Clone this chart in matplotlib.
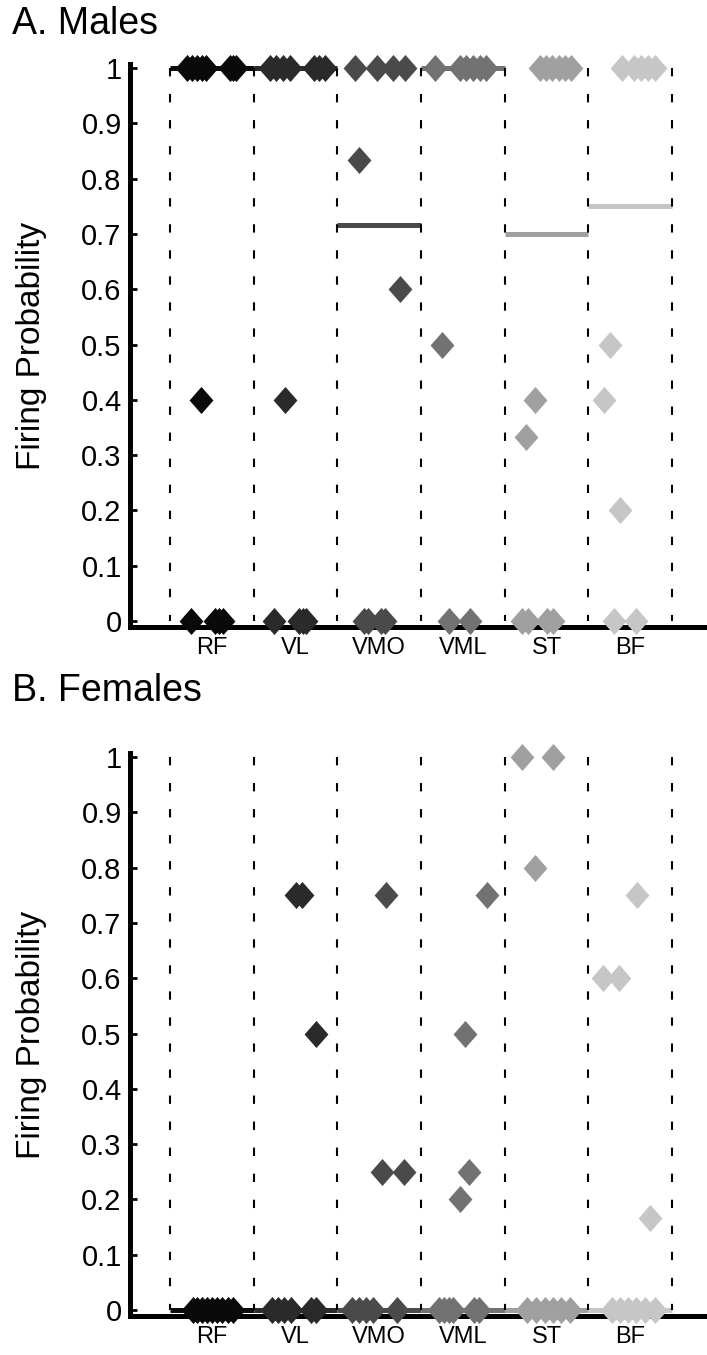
import numpy as np
import matplotlib
matplotlib.use('Agg')
import matplotlib.pyplot as plt
from matplotlib.path import Path

plt.rcParams['font.family'] = ['Liberation Sans', 'DejaVu Sans']

muscles = ['RF', 'VL', 'VMO', 'VML', 'ST', 'BF']
shades = ['#0a0a0a', '#2a2a2a', '#4a4a4a', '#727272', '#a0a0a0', '#c6c6c6']

# firing probability per motor unit, males
male_prob = [
    [1, 1, 1, 1, 1, 1, 1, 1, 0.4, 0, 0, 0, 0],
    [1, 1, 1, 1, 1, 1, 1, 0.4, 0, 0, 0, 0],
    [1, 1, 1, 1, 0.833, 0.6, 0, 0, 0, 0],
    [1, 1, 1, 1, 1, 1, 0.5, 0, 0],
    [1, 1, 1, 1, 1, 1, 0.4, 0.333, 0, 0, 0, 0],
    [1, 1, 1, 1, 1, 0.5, 0.4, 0.2, 0, 0],
]
# horizontal scatter of each unit inside its muscle column
male_jitter = [
    [-0.30, -0.24, -0.18, -0.12, -0.07, 0.22, 0.25, 0.29, -0.13, -0.25, 0.04, 0.09, 0.13],
    [-0.30, -0.23, -0.15, -0.07, 0.22, 0.28, 0.35, -0.13, -0.26, 0.04, 0.09, 0.13],
    [-0.29, -0.03, 0.16, 0.31, -0.24, 0.25, -0.18, -0.13, 0.02, 0.07],
    [-0.33, -0.03, 0.04, 0.12, 0.21, 0.28, -0.25, -0.16, 0.09],
    [-0.08, -0.01, 0.07, 0.15, 0.22, 0.29, -0.14, -0.25, -0.29, -0.22, 0.01, 0.08],
    [-0.10, 0.05, 0.13, 0.21, 0.30, -0.24, -0.31, -0.12, -0.19, 0.07],
]

# firing probability per motor unit, females
female_prob = [
    [0, 0, 0, 0, 0, 0, 0, 0, 0],
    [0.75, 0.75, 0.5, 0, 0, 0, 0, 0, 0],
    [0.75, 0.25, 0.25, 0, 0, 0, 0, 0],
    [0.75, 0.5, 0.25, 0.2, 0, 0, 0, 0, 0, 0],
    [1, 1, 0.8, 0, 0, 0, 0, 0, 0],
    [0.75, 0.6, 0.6, 0.167, 0, 0, 0, 0, 0, 0],
]
female_jitter = [
    [-0.23, -0.18, -0.12, -0.06, 0.00, 0.06, 0.12, 0.19, 0.25],
    [0.01, 0.08, 0.25, -0.28, -0.21, -0.14, -0.05, 0.19, 0.25],
    [0.08, 0.03, 0.30, -0.33, -0.24, -0.16, -0.07, 0.21],
    [0.29, 0.03, 0.07, -0.03, -0.28, -0.22, -0.16, -0.12, 0.13, 0.19],
    [-0.29, 0.08, -0.14, -0.23, -0.12, -0.02, 0.08, 0.17, 0.28],
    [0.08, -0.33, -0.13, 0.24, -0.22, -0.12, -0.03, 0.07, 0.18, 0.30],
]

# slightly tall diamond, like the matlab 'd' marker
diamond = Path([(0, 1), (0.88, 0), (0, -1), (-0.88, 0), (0, 1)], closed=True)

W, H = 707, 1355
fig = plt.figure(figsize=(W / 100, H / 100), dpi=100)
ax_a = fig.add_axes([130 / W, 1 - 627 / H, 577 / W, 563 / H])
ax_b = fig.add_axes([130 / W, 1 - 1316 / H, 577 / W, 563 / H])


def draw_panel(ax, prob, jitter):
    for i, (p, j) in enumerate(zip(prob, jitter)):
        p = np.array(p)
        med = np.median(p)
        ax.plot([i - 0.5, i + 0.5], [med, med], color=shades[i], lw=3.6,
                solid_capstyle='butt', zorder=3, clip_on=False)
        ax.plot(i + np.array(j), p, linestyle='none', marker=diamond, ms=19.5,
                mfc=shades[i], mec=shades[i], mew=0, zorder=4, clip_on=False)
    # column separators
    for b in np.arange(-0.5, len(muscles), 1.0):
        ax.plot([b, b], [1, 0], color='k', lw=1.5, linestyle=(0, (4, 8.5)),
                zorder=3.5)

    ax.set_xlim(-0.978, 5.918)
    ax.set_ylim(-0.0108, 1.0072)
    for s in ['top', 'right']:
        ax.spines[s].set_visible(False)
    for s in ['left', 'bottom']:
        ax.spines[s].set_linewidth(3.6)
    ax.set_yticks(np.linspace(0, 1, 11))
    ax.set_yticklabels(['0', '0.1', '0.2', '0.3', '0.4', '0.5', '0.6', '0.7',
                        '0.8', '0.9', '1'])
    ax.set_xticks(range(len(muscles)))
    ax.set_xticklabels(muscles)
    ax.tick_params(axis='y', direction='in', length=5, width=2, labelsize=21, pad=6)
    ax.tick_params(axis='x', length=0, labelsize=17, pad=7.5)
    ax.set_ylabel('Firing Probability', fontsize=24)
    ax.yaxis.set_label_coords(-0.144, 0.5)


draw_panel(ax_a, male_prob, male_jitter)
draw_panel(ax_b, female_prob, female_jitter)

fig.text(12 / W, 1 - 34 / H, 'A. Males', fontsize=27, va='baseline', ha='left')
fig.text(12 / W, 1 - 701 / H, 'B. Females', fontsize=27, va='baseline', ha='left')

fig.savefig('out.png', dpi=100)
